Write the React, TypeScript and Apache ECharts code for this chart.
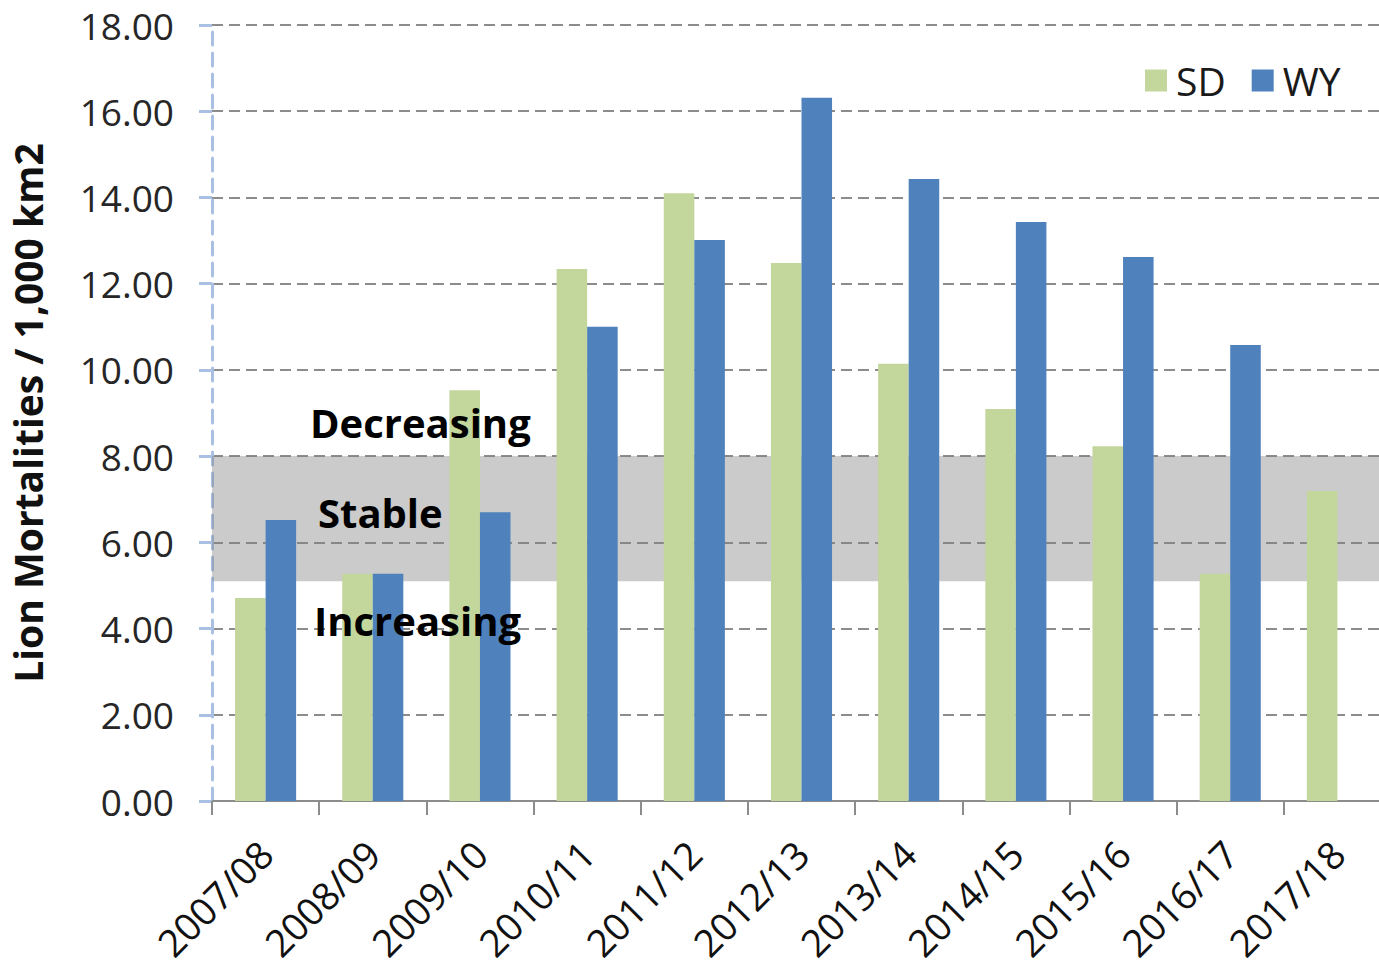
import React, { useEffect, useRef } from "react";
import * as echarts from "echarts";

const categories = ["2007/08", "2008/09", "2009/10", "2010/11", "2011/12", "2012/13", "2013/14", "2014/15", "2015/16", "2016/17", "2017/18"];
const sdValues = [4.71, 5.27, 9.53, 12.34, 14.1, 12.48, 10.14, 9.09, 8.23, 5.27, 7.19];
const wyValues: (number | null)[] = [6.52, 5.27, 6.7, 11.0, 13.01, 16.31, 14.43, 13.43, 12.62, 10.58, null];
const stableBand = [5.1, 8.0];
const bandLabels = ["Decreasing", "Stable", "Increasing"];

const FONT = "'Open Sans', 'Noto Sans', sans-serif";

export default function App() {
  const ref = useRef<HTMLDivElement>(null);
  useEffect(() => {
    if (!ref.current) return;
    const chart = echarts.init(ref.current, null, { renderer: "svg" });
    chart.setOption({
      animation: false,
      backgroundColor: "#ffffff",
      textStyle: { fontFamily: FONT },
      grid: { left: 210, right: 9, top: 25, bottom: 170, containLabel: false },
      legend: {
        left: 1140,
        top: 56,
        itemWidth: 22,
        itemHeight: 22,
        itemGap: 26,
        icon: "rect",
        textStyle: { fontSize: 39, color: "#1a1a1a", fontFamily: FONT, padding: [0, 0, 0, 4] },
        data: ["SD", "WY"],
      },
      xAxis: {
        type: "category",
        data: categories,
        axisLine: { lineStyle: { color: "#8c8c8c", width: 2 } },
        axisTick: { show: true, length: 14, alignWithLabel: false, lineStyle: { color: "#8c8c8c", width: 2 } },
        axisLabel: { rotate: 45, fontSize: 38, color: "#111", margin: 46, fontFamily: FONT, interval: 0 },
      },
      yAxis: {
        type: "value",
        min: 0,
        max: 18,
        interval: 2,
        name: "Lion Mortalities / 1,000 km2",
        nameLocation: "middle",
        nameGap: 165,
        nameTextStyle: { fontSize: 39, fontWeight: "bold", color: "#111", fontFamily: FONT },
        axisLine: { show: true, lineStyle: { color: "#a9c0e4", width: 3, type: [13, 8] } },
        axisTick: { show: true, length: 13, lineStyle: { color: "#a9c0e4", width: 3 } },
        axisLabel: { fontSize: 37, color: "#262626", margin: 38, fontFamily: FONT, formatter: (v: number) => v.toFixed(2) },
        splitLine: { show: true, lineStyle: { color: "#8c8c8c", width: 2, type: [11, 6] } },
      },
      series: [
        {
          name: "SD",
          type: "bar",
          data: sdValues,
          itemStyle: { color: "#c3d69b" },
          barGap: "0%",
          barCategoryGap: "43%",
          z: 2,
        },
        {
          name: "WY",
          type: "bar",
          data: wyValues,
          itemStyle: { color: "#4f81bd" },
          barGap: "0%",
          barCategoryGap: "43%",
          z: 2,
        },
        {
          name: "band",
          type: "line",
          data: [],
          z: 10,
          silent: true,
          markArea: {
            silent: true,
            itemStyle: { color: "rgba(128,128,128,0.41)" },
            data: [[{ yAxis: stableBand[0] }, { yAxis: stableBand[1] }]],
          },
        },
      ],
      graphic: [
        { type: "text", left: 310, top: 402, z: 100, style: { text: bandLabels[0], font: `bold 40px ${FONT}`, fill: "#000" } },
        { type: "text", left: 318, top: 492, z: 100, style: { text: bandLabels[1], font: `bold 40px ${FONT}`, fill: "#000" } },
        { type: "text", left: 314, top: 600, z: 100, style: { text: bandLabels[2], font: `bold 40px ${FONT}`, fill: "#000" } },
      ],
    });
    return () => chart.dispose();
  }, []);
  return (
    <div style={{ position: "absolute", left: 0, top: 0, width: 1379, height: 971, overflow: "hidden" }}>
      <div ref={ref} style={{ width: 1400, height: 971 }} />
    </div>
  );
}
